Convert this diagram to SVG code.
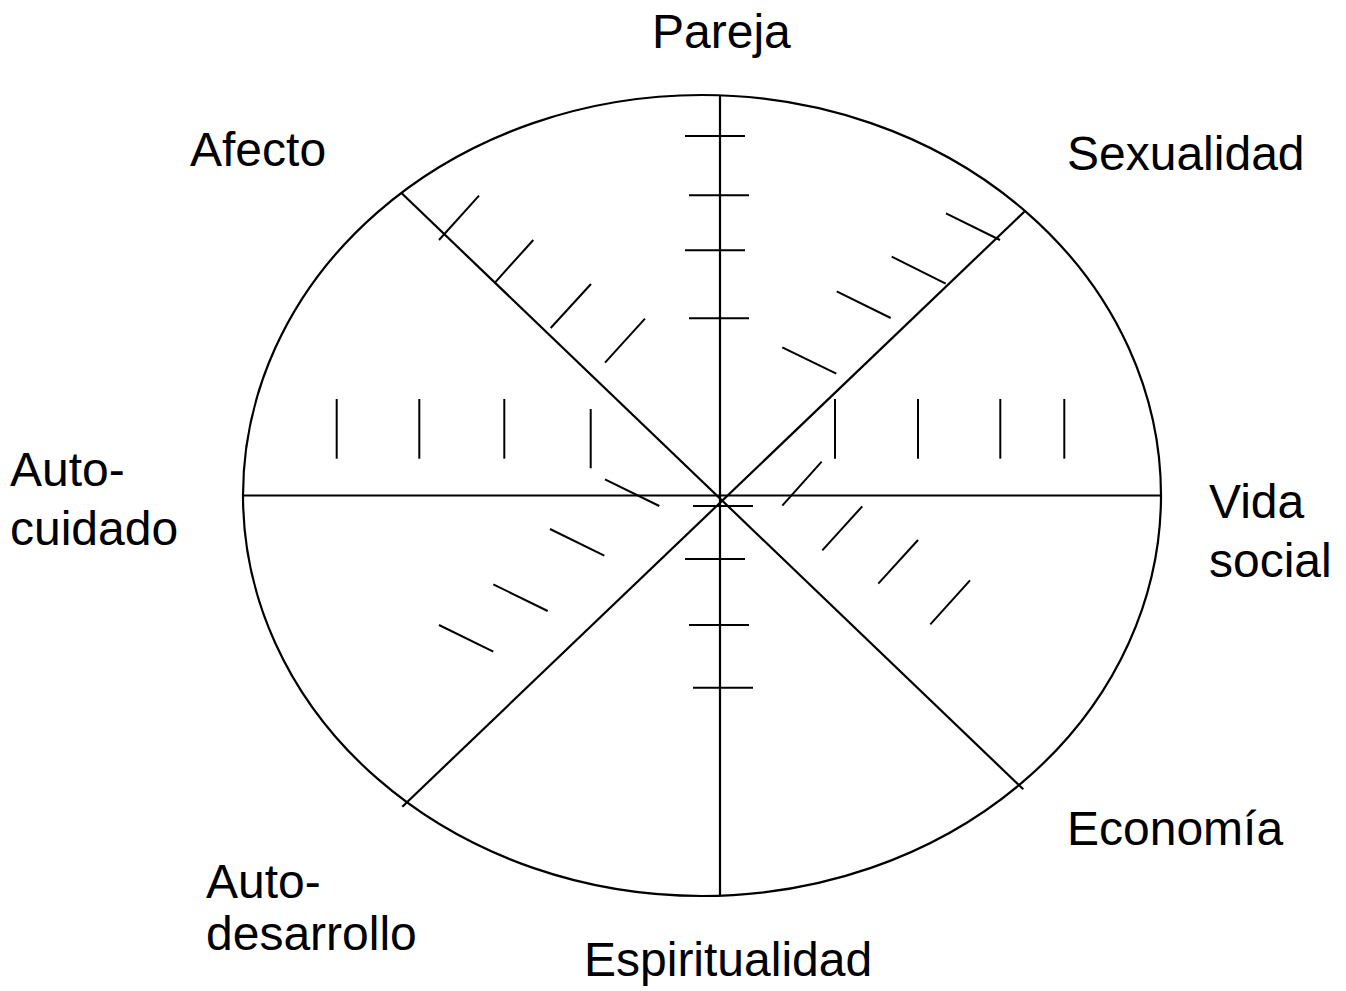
<svg xmlns="http://www.w3.org/2000/svg" width="1346" height="991" viewBox="0 0 1346 991">
<style>
.ln{stroke:#000;stroke-width:2.2;fill:none}
.tk{stroke:#000;stroke-width:2;fill:none}
.lb{font-family:"Liberation Sans",Arial,sans-serif;font-size:48px;fill:#000}
</style>
<rect width="1346" height="991" fill="#fff"/>
<g id="wheel">
<ellipse class="ln" cx="702" cy="495.5" rx="459" ry="400.5"/>
</g>
<g id="connectors">
<line class="ln" x1="720" y1="95" x2="720" y2="896"/>
<line class="ln" x1="243" y1="495.5" x2="1161" y2="495.5"/>
<line class="ln" x1="401.7" y1="193.3" x2="1023.3" y2="789.3"/>
<line class="ln" x1="1024.3" y1="211.7" x2="402.3" y2="806.7"/>
</g>
<g id="ticks">
<line class="tk" x1="685" y1="136" x2="745" y2="136"/>
<line class="tk" x1="689" y1="195.3" x2="749" y2="195.3"/>
<line class="tk" x1="685" y1="250.3" x2="745" y2="250.3"/>
<line class="tk" x1="689" y1="318.3" x2="749" y2="318.3"/>
<line class="tk" x1="693" y1="506" x2="753" y2="506"/>
<line class="tk" x1="685" y1="559" x2="745" y2="559"/>
<line class="tk" x1="689" y1="625" x2="749" y2="625"/>
<line class="tk" x1="693" y1="687.7" x2="753" y2="687.7"/>
<line class="tk" x1="336.7" y1="399" x2="336.7" y2="458.7"/>
<line class="tk" x1="419.3" y1="399" x2="419.3" y2="458.7"/>
<line class="tk" x1="504.3" y1="399" x2="504.3" y2="458.7"/>
<line class="tk" x1="590.7" y1="409" x2="590.7" y2="468.3"/>
<line class="tk" x1="835" y1="399" x2="835" y2="458.7"/>
<line class="tk" x1="918" y1="399" x2="918" y2="458.7"/>
<line class="tk" x1="1000.3" y1="399" x2="1000.3" y2="458.7"/>
<line class="tk" x1="1064.3" y1="399" x2="1064.3" y2="458.7"/>
<line class="tk" x1="821.7" y1="461.7" x2="782.3" y2="505.7"/>
<line class="tk" x1="862.3" y1="506.3" x2="822.3" y2="550.3"/>
<line class="tk" x1="918" y1="540" x2="878.3" y2="583.7"/>
<line class="tk" x1="970" y1="580.3" x2="930.3" y2="624.3"/>
<line class="tk" x1="479" y1="195.7" x2="439" y2="240"/>
<line class="tk" x1="533.3" y1="240" x2="494.3" y2="283.3"/>
<line class="tk" x1="591" y1="284" x2="550.7" y2="328"/>
<line class="tk" x1="645" y1="318.7" x2="605" y2="362.7"/>
<line class="tk" x1="946" y1="213.3" x2="1000" y2="240"/>
<line class="tk" x1="891.7" y1="256.7" x2="945.7" y2="283.7"/>
<line class="tk" x1="836.7" y1="291.3" x2="890.7" y2="318"/>
<line class="tk" x1="782.3" y1="347.3" x2="836.3" y2="373.7"/>
<line class="tk" x1="605" y1="479.3" x2="659.3" y2="506"/>
<line class="tk" x1="550" y1="529" x2="604.3" y2="555.7"/>
<line class="tk" x1="493.3" y1="584.3" x2="547.7" y2="611"/>
<line class="tk" x1="439" y1="625" x2="493.3" y2="651.7"/>
</g>
<g id="labels">
<text class="lb" x="652" y="48">Pareja</text>
<text class="lb" x="190" y="166">Afecto</text>
<text class="lb" x="1067" y="170">Sexualidad</text>
<text class="lb" x="10" y="486">Auto-</text>
<text class="lb" x="10" y="545">cuidado</text>
<text class="lb" x="1209" y="518">Vida</text>
<text class="lb" x="1209" y="577">social</text>
<text class="lb" x="1067" y="845">Economía</text>
<text class="lb" x="206" y="898">Auto-</text>
<text class="lb" x="206" y="950">desarrollo</text>
<text class="lb" x="584" y="976">Espiritualidad</text>
</g>
</svg>
